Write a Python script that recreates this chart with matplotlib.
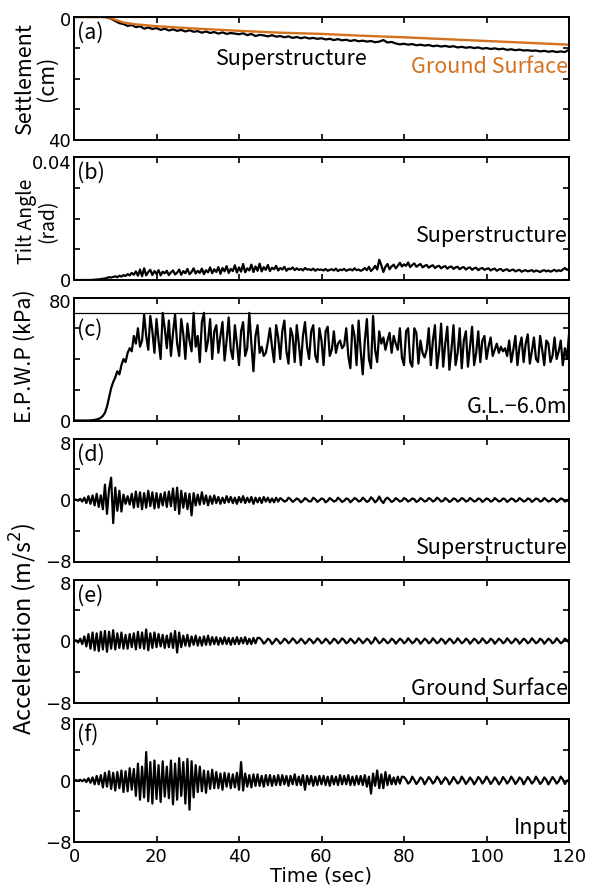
"""
plot.py
Shaking-table response time histories: settlement, tilt, excess pore water
pressure and accelerations of superstructure / ground / input.
"""

import numpy as np
import matplotlib
matplotlib.use("Agg")
import matplotlib.pyplot as plt
from matplotlib.transforms import ScaledTranslation

plt.rcParams["font.family"] = ["Noto Sans CJK JP", "DejaVu Sans"]
plt.rcParams["font.size"] = 15.5

ORANGE = "#D4711F"
DT = 0.5
FS = 15.5
TICK_FS = 13

# (a) settlement (cm), superstructure sampled every 1 s from 0 to 120 s
super_settle = [
    0, 0, 0, 0, 0, 0, 0, 0, 0.1, 0.6,
    1.3, 2.0, 2.3, 2.9, 2.6, 3.3, 3.0, 3.8, 3.4, 3.9,
    3.6, 4.2, 3.8, 4.4, 4.0, 4.5, 4.2, 4.7, 4.3, 4.8,
    4.6, 5.1, 4.7, 5.2, 4.9, 5.4, 5.0, 5.5, 5.2, 5.4,
    5.6, 5.3, 5.9, 5.5, 6.2, 5.8, 6.0, 6.3, 5.9, 6.4,
    6.2, 6.6, 6.3, 6.8, 6.5, 6.9, 6.6, 7.0, 6.8, 7.1,
    6.9, 7.3, 7.1, 7.5, 7.2, 7.6, 7.4, 7.8, 7.5, 7.9,
    7.7, 8.0, 7.8, 8.2, 8.0, 7.5, 8.3, 8.1, 8.6, 8.9,
    8.7, 9.0, 8.8, 9.2, 9.0, 9.3, 9.1, 9.5, 9.3, 9.6,
    9.4, 9.7, 9.5, 9.9, 9.7, 10.0, 9.8, 10.1, 9.9, 10.3,
    10.1, 10.4, 10.2, 10.5, 10.3, 10.7, 10.5, 10.8, 10.6, 10.9,
    10.8, 11.0, 10.9, 11.2, 11.0, 11.3, 11.1, 11.4, 11.2, 11.4,
    10.6,
]
gs_time = [0, 8, 10, 12, 15, 20, 30, 40, 50, 60, 70, 80, 90, 100, 110, 120]
gs_settle = [0, 0, 0.9, 1.8, 2.4, 3.0, 3.8, 4.5, 5.1, 5.5, 6.1, 6.6, 7.2, 7.8, 8.4, 9.0]

# (b) tilt angle in 1e-3 rad, every 0.5 s
tilt_mrad = [
    0, 0, 0, 0, 0, 0, 0, 0, 0, 0.05, 0.1, 0.15, 0.2, 0.3, 0.4, 0.5, 0.7, 0.9, 0.8, 1.0,
    1.2, 0.9, 1.4, 1.1, 1.6, 1.3, 1.9, 1.5, 2.3, 1.7, 2.8, 1.4, 3.4, 1.2, 3.8, 1.5, 2.6, 3.3, 1.6, 2.9,
    2.0, 3.2, 1.5, 2.7, 2.2, 3.0, 1.6, 2.5, 3.1, 1.8, 2.4, 3.4, 1.7, 2.9, 2.2, 3.6, 1.9, 2.6, 3.8, 2.1,
    3.0, 2.3, 3.7, 1.9, 3.2, 2.5, 4.1, 2.2, 3.5, 2.6, 4.2, 2.0, 3.9, 2.8, 4.5, 2.3, 3.6, 2.9, 4.8, 2.4,
    4.1, 2.7, 5.2, 2.5, 3.8, 3.1, 5.0, 2.6, 4.4, 3.0, 5.3, 2.8, 4.2, 3.3, 4.9, 2.9, 4.0, 3.5, 4.6, 3.1,
    3.9, 3.4, 4.3, 3.0, 3.7, 3.5, 4.1, 3.2, 3.8, 3.3, 3.6, 3.1, 3.9, 3.4, 3.5, 3.2, 3.7, 3.0, 3.5, 3.3,
    3.4, 3.1, 3.6, 3.0, 3.3, 3.5, 3.1, 3.7, 2.9, 3.4, 3.2, 3.6, 3.0, 3.3, 3.5, 3.1, 3.8, 3.2, 3.4, 3.0,
    3.3, 3.9, 3.2, 4.3, 2.9, 3.6, 4.6, 3.4, 6.6, 4.8, 2.6, 4.3, 5.2, 3.5, 4.4, 5.0, 3.8, 4.6, 5.6, 4.4,
    5.1, 4.6, 5.7, 4.2, 4.9, 5.4, 4.3, 4.8, 5.2, 4.1, 4.6, 4.9, 4.0, 4.5, 4.8, 3.9, 4.4, 4.6, 3.8, 4.3,
    4.5, 3.7, 4.2, 4.4, 3.6, 4.1, 4.3, 3.5, 4.0, 4.2, 3.4, 3.9, 4.1, 3.3, 3.8, 4.0, 3.2, 3.7, 3.9, 3.3,
    3.6, 3.8, 3.1, 3.5, 3.7, 3.0, 3.4, 3.6, 2.9, 3.3, 3.5, 2.9, 3.2, 3.4, 2.8, 3.1, 3.3, 2.7, 3.0, 3.2,
    2.8, 3.0, 3.2, 2.7, 3.1, 2.9, 2.6, 3.0, 3.2, 2.8, 3.1, 2.7, 3.0, 3.3, 2.8, 3.2, 2.9, 3.4, 3.9, 3.3,
    3.6,
]

# (c) excess pore water pressure at G.L.-6.0m (kPa), every 0.5 s
epwp = [
    0, 0, 0, 0, 0, 0, 0, 0, 0.1, 0.2,
    0.4, 0.7, 1.1, 1.8, 3, 5, 9, 15, 21, 25,
    28, 32, 30, 36, 40, 38, 44, 47, 45, 55,
    50, 60, 48, 52, 69, 55, 46, 68, 58, 44,
    66, 52, 40, 70, 60, 47, 65, 42, 57, 69,
    50, 42, 66, 56, 40, 63, 52, 45, 70, 48,
    55, 38, 64, 70, 45, 52, 66, 40, 58, 62,
    44, 55, 64, 39, 52, 67, 46, 40, 62, 50,
    36, 58, 64, 42, 47, 70, 50, 32, 55, 62,
    44, 48, 42, 44, 51, 60, 48, 38, 62, 54,
    40, 58, 65, 45, 37, 60, 55, 38, 62, 50,
    36, 55, 64, 48, 40, 58, 62, 42, 38, 60,
    52, 36, 58, 61, 42, 46, 58, 44, 50, 52,
    47, 49, 60, 42, 34, 62, 55, 36, 65, 45,
    30, 52, 66, 40, 34, 68, 46, 38, 58, 50,
    54, 46, 52, 57, 44, 55, 50, 46, 60, 41,
    36, 58, 60, 38, 35, 60, 57, 37, 52, 44,
    41, 46, 60, 36, 52, 62, 34, 45, 63, 35,
    50, 61, 33, 46, 62, 36, 44, 60, 34, 52,
    58, 35, 48, 61, 36, 44, 58, 38, 52, 55,
    40, 48, 54, 42, 46, 50, 44, 48, 45, 47,
    42, 52, 38, 46, 55, 36, 48, 54, 38, 50,
    56, 37, 45, 54, 40, 38, 55, 46, 36, 52,
    50, 38, 42, 54, 40, 45, 52, 36, 47, 40,
    56,
]

# (d) superstructure acceleration (m/s2), every 0.5 s
acc_super = [
    0, 0.05, -0.1, 0.15, -0.2, 0.3, -0.4, 0.5, -0.5, 0.6,
    -0.7, 0.8, -0.9, 0.6, -1.2, 2.0, -1.8, 1.4, 2.9, -3.0,
    1.6, -1.4, 1.2, -1.5, 0.7, -0.5, 0.5, -0.6, 0.8, -1.0,
    1.1, -0.9, 1.0, -1.2, 0.9, -1.0, 1.2, -0.8, 1.0, -1.1,
    0.9, -1.0, 0.8, -0.7, 1.0, -0.9, 1.1, -0.8, 1.5, -1.3,
    1.6, -1.8, 1.2, -1.0, 0.9, -1.2, 0.8, -2.0, 0.9, -0.7,
    0.7, -0.6, 1.0, -0.5, 0.6, -0.7, 0.5, -0.5, 0.6, -0.4,
    0.4, -0.5, 0.3, -0.4, 0.5, -0.3, 0.4, -0.4, 0.3, -0.5,
    0.4, -0.3, 0.5, -0.4, 0.3, -0.3, 0.4, -0.5, 0.3, -0.3,
    0.3, -0.4, 0.4, -0.2, 0.3, -0.3, 0.2, -0.3, 0.3, -0.2,
    0.25, 0.05, -0.2, -0.1, 0.3, 0.1, -0.25, -0.05, 0.2, 0.05,
    -0.3, -0.1, 0.25, 0.05, -0.2, -0.15, 0.3, 0.1, -0.25, -0.05,
    0.2, 0.1, -0.3, -0.1, 0.25, 0.05, -0.2, -0.1, 0.3, 0.05,
    -0.25, -0.1, 0.2, 0.1, -0.3, -0.05, 0.25, 0.1, -0.2, -0.1,
    0.3, 0.05, -0.25, -0.1, 0.35, 0.1, -0.3, -0.05, 0.45, -0.1,
    -0.4, 0.1, 0.3, 0.05, -0.25, -0.1, 0.25, 0.05, -0.2, -0.1,
    0.25, 0.1, -0.2, -0.05, 0.2, 0.1, -0.25, -0.1, 0.25, 0.05,
    -0.2, -0.1, 0.25, 0.1, -0.2, -0.05, 0.3, 0.1, -0.2, -0.1,
    0.25, 0.05, -0.25, -0.1, 0.2, 0.1, -0.2, -0.05, 0.25, 0.1,
    -0.2, -0.1, 0.25, 0.05, -0.2, -0.1, 0.2, 0.1, -0.25, -0.05,
    0.2, 0.1, -0.2, -0.1, 0.25, 0.05, -0.2, -0.1, 0.2, 0.1,
    -0.25, -0.05, 0.2, 0.1, -0.2, -0.1, 0.25, 0.05, -0.2, -0.1,
    0.2, 0.1, -0.25, -0.05, 0.2, 0.1, -0.2, -0.1, 0.25, 0.05,
    -0.2, -0.1, 0.2, 0.1, -0.25, -0.05, 0.2, 0.1, -0.2, -0.1,
    0.1,
]

# (e) ground surface acceleration (m/s2), every 0.5 s
acc_ground = [
    0, 0.1, -0.2, 0.3, -0.4, 0.6, -0.7, 0.9, -1.0, 1.1,
    -1.2, 1.0, -1.3, 1.2, -1.1, 1.3, -1.4, 1.2, -1.0, 1.4,
    -1.1, 1.0, -0.9, 1.1, -1.0, 0.8, -1.0, 0.9, -0.8, 1.0,
    -1.1, 1.2, -0.9, 1.1, -1.0, 1.5, -1.2, 1.0, -0.9, 1.1,
    -0.8, 0.9, -0.7, 0.8, -0.9, 0.7, -0.8, 1.0, -0.9, 1.3,
    -1.5, 1.1, -0.8, 0.7, -0.6, 0.8, -0.7, 0.6, -0.5, 0.7,
    -0.6, 0.5, -0.6, 0.6, -0.5, 0.7, -0.5, 0.5, -0.4, 0.5,
    -0.5, 0.4, -0.4, 0.5, -0.4, 0.4, -0.5, 0.4, -0.4, 0.5,
    -0.4, 0.4, -0.3, 0.5, -0.4, 0.3, -0.4, 0.4, -0.3, 0.4,
    0.4, 0.1, -0.35, -0.1, 0.3, 0.1, -0.4, -0.1, 0.3, 0.05,
    -0.35, -0.1, 0.3, 0.1, -0.3, -0.05, 0.35, 0.1, -0.3, -0.1,
    0.3, 0.05, -0.35, -0.1, 0.3, 0.1, -0.3, -0.05, 0.35, 0.1,
    -0.3, -0.1, 0.3, 0.05, -0.35, -0.1, 0.3, 0.1, -0.3, -0.05,
    0.35, 0.1, -0.3, -0.1, 0.3, 0.05, -0.3, -0.1, 0.35, 0.1,
    -0.3, -0.05, 0.3, 0.1, -0.35, -0.1, 0.45, 0.1, -0.3, -0.1,
    0.3, 0.05, -0.3, -0.1, 0.3, 0.1, -0.35, -0.05, 0.3, 0.1,
    -0.3, -0.1, 0.35, 0.05, -0.3, -0.1, 0.3, 0.1, -0.35, -0.05,
    0.3, 0.1, -0.3, -0.1, 0.35, 0.05, -0.3, -0.1, 0.3, 0.1,
    -0.35, -0.05, 0.3, 0.1, -0.3, -0.1, 0.35, 0.05, -0.3, -0.1,
    0.3, 0.1, -0.35, -0.05, 0.3, 0.1, -0.3, -0.1, 0.35, 0.05,
    -0.3, -0.1, 0.3, 0.1, -0.35, -0.05, 0.3, 0.1, -0.3, -0.1,
    0.35, 0.05, -0.3, -0.1, 0.3, 0.1, -0.35, -0.05, 0.3, 0.1,
    -0.3, -0.1, 0.35, 0.05, -0.3, -0.1, 0.3, 0.1, -0.35, -0.05,
    0.3, 0.1, -0.3, -0.1, 0.35, 0.05, -0.3, -0.1, 0.3, 0.1,
    -0.2,
]

# (f) input acceleration (m/s2), every 0.5 s
acc_input = [
    0, 0.05, -0.05, 0.1, -0.1, 0.15, -0.2, 0.3, -0.3, 0.4,
    -0.5, 0.6, -0.5, 0.7, -0.9, 1.0, -0.8, 1.2, -1.1, 1.0,
    -1.3, 1.1, -1.0, 1.3, -1.5, 1.2, -1.4, 1.6, -1.2, 1.5,
    -2.0, 2.2, -2.5, 1.8, -2.2, 3.7, -2.7, 2.4, -3.0, 2.6,
    -2.4, 2.0, -2.8, 2.5, -2.1, 1.8, -2.3, 2.6, -3.1, 2.2,
    -2.5, 2.9, -2.0, 2.4, -3.0, 2.8, -3.8, 2.5, -2.2, 2.0,
    -1.5, 1.8, -1.4, 1.3, -1.6, 1.2, -1.1, 1.4, -1.0, 1.1,
    -1.0, 0.9, -1.2, 1.0, -0.8, 0.9, -1.0, 0.8, -0.9, 1.0,
    -1.2, 2.4, -1.3, 0.9, -0.8, 0.7, -0.9, 0.8, -0.7, 0.8,
    -0.7, 0.6, -0.8, 0.7, -0.6, 0.7, -0.7, 0.6, -0.6, 0.7,
    -0.6, 0.7, -0.5, 0.6, -0.7, 0.6, -0.5, 0.8, -0.6, 0.5,
    -0.6, 0.7, -1.2, 0.6, -0.5, 0.6, -0.7, 0.5, -0.6, 0.6,
    -0.5, 0.6, -0.6, 0.5, -0.7, 0.6, -0.5, 0.5, -0.6, 0.7,
    -0.5, 0.6, -0.5, 0.7, -0.6, 0.5, -0.6, 0.6, -0.5, 0.6,
    -0.6, 0.7, -0.8, 0.5, -1.7, 0.9, -0.7, 1.3, -1.0, 0.8,
    -1.0, 1.1, -0.6, 0.7, -0.5, 0.4, -0.5, 0.5, -0.4, 0.5,
    0.45, 0.1, -0.4, -0.15, 0.5, 0.05, -0.45, -0.1, 0.4, 0.15,
    -0.5, -0.05, 0.45, 0.1, -0.4, -0.1, 0.5, 0.15, -0.45, -0.05,
    0.4, 0.1, -0.5, -0.1, 0.45, 0.05, -0.4, -0.15, 0.5, 0.1,
    -0.45, -0.1, 0.4, 0.05, -0.5, -0.1, 0.45, 0.15, -0.4, -0.05,
    0.5, 0.1, -0.45, -0.1, 0.4, 0.05, -0.5, -0.15, 0.45, 0.1,
    -0.4, -0.05, 0.5, 0.1, -0.45, -0.1, 0.4, 0.15, -0.5, -0.05,
    0.45, 0.1, -0.4, -0.1, 0.5, 0.05, -0.45, -0.15, 0.4, 0.1,
    -0.5, -0.05, 0.45, 0.1, -0.4, -0.1, 0.5, 0.15, -0.45, -0.05,
    0.1,
]

time_ticks = [0, 20, 40, 60, 80, 100, 120]

fig = plt.figure(figsize=(6.09, 8.94), dpi=100)
W, H = 609.0, 894.0
left_px, right_px = 74, 569
tops_px = [17, 157, 297.5, 438.5, 579.5, 719]
h_px = 123


def style_axis(ax, yticks, ylabels, show_x=False, top_label_index=-1, shift_px=4):
    ax.set_xlim(0, 120)
    ax.set_xticks(time_ticks)
    ax.set_yticks(yticks)
    ax.set_yticklabels(ylabels, family="DejaVu Sans", fontsize=TICK_FS)
    ax.tick_params(direction="in", length=4, width=1.2, top=True, right=True, pad=2)
    ax.tick_params(axis="x", pad=4, labelsize=TICK_FS)
    if not show_x:
        ax.set_xticklabels([])
    else:
        for lbl in ax.get_xticklabels():
            lbl.set_family("DejaVu Sans")
    # label at the upper edge sits a little lower in the original figure
    lbl = ax.get_yticklabels()[top_label_index]
    lbl.set_transform(lbl.get_transform()
                      + ScaledTranslation(0, -shift_px / 100.0, fig.dpi_scale_trans))
    for sp in ax.spines.values():
        sp.set_linewidth(1.4)


def tag(ax, s, y=0.87):
    ax.text(0.006, y, s, transform=ax.transAxes, ha="left", va="center", fontsize=FS)


def note(ax, s, y, color="black", x=0.997, ha="right"):
    ax.text(x, y, s, transform=ax.transAxes, ha=ha, va="center", fontsize=FS, color=color)


axes = []
for top in tops_px:
    axes.append(fig.add_axes([left_px / W, 1 - (top + h_px) / H,
                              (right_px - left_px) / W, h_px / H]))
ax_a, ax_b, ax_c, ax_d, ax_e, ax_f = axes

t1 = np.arange(len(super_settle)) * 1.0
lw = 1.6

# (a)  axis inverted: 0 at the top
ax_a.plot(t1, super_settle, color="black", lw=lw)
ax_a.plot(gs_time, gs_settle, color=ORANGE, lw=1.7)
ax_a.set_ylim(40, 0)
style_axis(ax_a, [0, 10, 20, 30, 40], ["0", "", "", "", "40"], top_label_index=0, shift_px=1.5)
tag(ax_a, "(a)")
note(ax_a, "Superstructure", 0.66, x=0.44, ha="center")
note(ax_a, "Ground Surface", 0.59, color=ORANGE)
ax_a.set_ylabel("Settlement\n(cm)", linespacing=1.0)
ax_a.yaxis.set_label_coords(-0.032, 0.5)

# (b)
ax_b.plot(np.arange(len(tilt_mrad)) * DT, np.array(tilt_mrad) / 1000.0, color="black", lw=lw)
ax_b.set_ylim(0, 0.04)
style_axis(ax_b, [0, 0.01, 0.02, 0.03, 0.04], ["0", "", "", "", "0.04"], shift_px=5)
tag(ax_b, "(b)")
note(ax_b, "Superstructure", 0.36)
ax_b.set_ylabel("Tilt Angle\n(rad)", linespacing=1.0, fontsize=14)
ax_b.yaxis.set_label_coords(-0.032, 0.48)

# (c)
ax_c.plot(np.arange(len(epwp)) * DT, epwp, color="black", lw=lw)
ax_c.axhline(70, color="black", lw=0.9)
ax_c.set_ylim(0, 80)
style_axis(ax_c, [0, 20, 40, 60, 80], ["0", "", "", "", "80"])
tag(ax_c, "(c)", y=0.735)
note(ax_c, "G.L.\u22126.0m", 0.11)
ax_c.set_ylabel("E.P.W.P (kPa)")
ax_c.yaxis.set_label_coords(-0.078, 0.52)

# (d), (e), (f)
acc_sets = [(ax_d, acc_super, "(d)", "Superstructure"),
            (ax_e, acc_ground, "(e)", "Ground Surface"),
            (ax_f, acc_input, "(f)", "Input")]
for ax, vals, lab, txt in acc_sets:
    ax.plot(np.arange(len(vals)) * DT, vals, color="black", lw=lw)
    ax.set_ylim(-8, 8)
    style_axis(ax, [-8, -4, 0, 4, 8], ["\u22128", "", "0", "", "8"], show_x=(ax is ax_f))
    tag(ax, lab)
    note(ax, txt, 0.11)

ax_e.set_ylabel("Acceleration (m/s$^2$)", fontsize=17)
ax_e.yaxis.set_label_coords(-0.07, 0.6)
ax_f.set_xlabel("Time (sec)", family="DejaVu Sans", fontsize=14, labelpad=1)

fig.savefig("out.png", dpi=100)
